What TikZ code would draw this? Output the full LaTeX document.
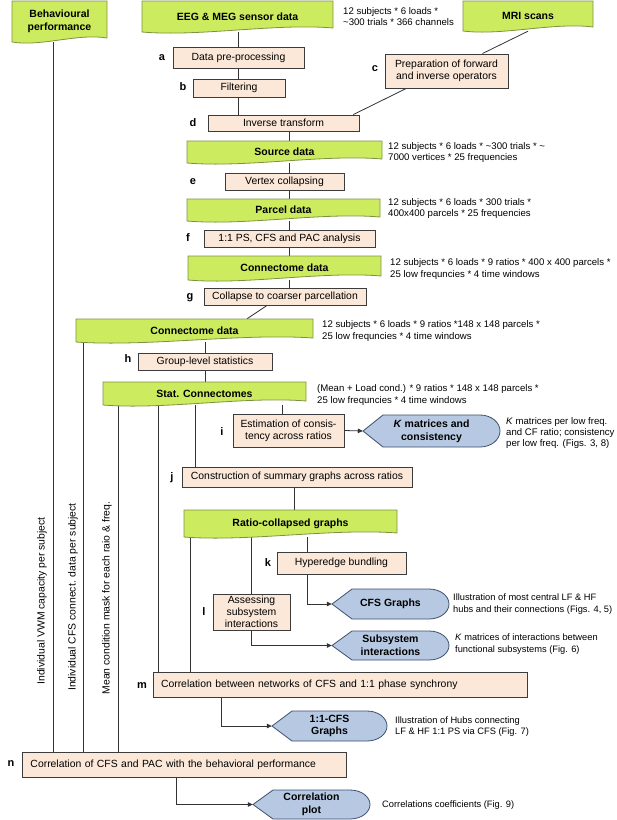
\documentclass[tikz,border=0pt]{standalone}
\usepackage{fontspec}
\setmainfont{Liberation Sans}
\usetikzlibrary{arrows.meta,backgrounds,calc}
\definecolor{gfill}{RGB}{205,235,95}
\definecolor{gline}{RGB}{125,145,70}
\definecolor{pfill}{RGB}{252,232,216}
\definecolor{pline}{RGB}{60,60,60}
\definecolor{bfill}{RGB}{183,201,226}
\definecolor{bline}{RGB}{60,80,110}
\tikzset{
 gshape/.style={fill=gfill, draw=gline, line width=0.8pt},
 gtext/.style={font=\fontsize{10.5}{12.5}\selectfont\bfseries, align=center, inner sep=0pt},
 pboxst/.style={fill=pfill, draw=pline, line width=0.9pt, font=\fontsize{10.4}{12.2}\selectfont, align=center, inner sep=0pt},
 bshape/.style={fill=bfill, draw=bline, line width=0.8pt},
 btext/.style={font=\fontsize{10.5}{12.8}\selectfont\bfseries, align=center, inner sep=0pt},
 lab/.style={font=\fontsize{11}{13}\selectfont\bfseries, inner sep=0pt},
 ann/.style={font=\fontsize{9.6}{11.2}\selectfont, align=left, anchor=west, inner sep=0pt},
 annb/.style={font=\fontsize{9.3}{11.6}\selectfont, align=left, anchor=west, inner sep=0pt},
 vlab/.style={font=\fontsize{10.4}{12}\selectfont, rotate=90, inner sep=0pt},
 conn/.style={draw=black!80, line width=0.8pt},
 arr/.style={conn, -{Triangle[length=5pt,width=4.5pt]}},
}
% green document shape: name, x left, y top, x right, y bottom-left, text
\newcommand\gdoc[6]{%
 \path[gshape] (#2,#3) -- (#4,#3) -- (#4,{#5-4}) .. controls ({#2+0.7*(#4-#2)},{#5-9}) and ({#2+0.3*(#4-#2)},{#5+5}) .. (#2,#5) -- cycle;
 \node[gtext, minimum width={#4-#2}, minimum height={#5-#3}] (#1) at ({(#2+#4)/2},{(#3+#5)/2}) {#6};
}
% peach process box
\newcommand\pbox[6]{%
 \node[pboxst, minimum width={#4-#2}, minimum height={#5-#3}] (#1) at ({(#2+#4)/2},{(#3+#5)/2}) {#6};
}
% blue display shape: name, x tip, y top, x right, y bottom, text, y radius
\newcommand\bdisp[7]{%
 \path[bshape] (#2,{(#3+#5)/2}) -- ({#2+20},#3) -- ({#4-20},#3) arc[start angle=90, end angle=-90, x radius=20pt, y radius=#7pt] -- ({#2+20},#5) -- cycle;
 \node[btext, minimum width={#4-#2}, minimum height={#5-#3}] (#1) at ({(#2+#4)/2},{(#3+#5)/2}) {#6};
}
\begin{document}
\begin{tikzpicture}[x=1pt,y=-1pt]
\useasboundingbox (0,0) rectangle (617,820);

% green data shapes
\gdoc{beh}{12}{1}{107}{42}{Behavioural\\performance}
\gdoc{eeg}{142}{1}{333}{32}{EEG \& MEG sensor data}
\gdoc{mri}{463}{1}{593}{31}{MRI scans}
\gdoc{src}{187}{141}{382}{163}{Source data}
\gdoc{parcel}{187}{199}{380}{221}{Parcel data}
\gdoc{conna}{188}{256}{381}{280}{Connectome data}
\gdoc{connb}{76}{319}{313}{342}{Connectome data}
\gdoc{stat}{103}{382}{306}{405}{Stat. Connectomes}
\gdoc{ratio}{184}{510}{397}{537}{Ratio-collapsed graphs}

% process boxes
\pbox{a}{173}{47}{304}{68}{Data pre-processing}
\pbox{b}{193}{79}{285}{97}{Filtering}
\pbox{c}{385}{54}{508}{88}{Preparation of forward\\and inverse operators}
\pbox{d}{208}{115}{359}{131}{Inverse transform}
\pbox{e}{225}{173}{344}{190}{Vertex collapsing}
\pbox{f}{204}{230}{375}{247}{1:1 PS, CFS and PAC analysis}
\pbox{g}{204}{288}{366}{305}{Collapse to coarser parcellation}
\pbox{h}{138}{353}{272}{370}{Group-level statistics}
\pbox{i}{233}{414}{344}{447}{Estimation of consis-\\tency across ratios}
\pbox{j}{182}{467}{412}{487}{Construction of summary graphs across ratios}
\pbox{k}{277}{552}{406}{574}{Hyperedge bundling}
\pbox{l}{213}{594}{290}{630}{Assessing\\subsystem\\interactions}
\node[pboxst, minimum width=374, minimum height=25, text width=358, inner xsep=8pt, align=left] (m) at (340,684.5) {Correlation between networks of CFS and 1:1 phase synchrony};
\node[pboxst, minimum width=323.5, minimum height=25, text width=307.5, inner xsep=8pt, align=left] (n) at (184.25,764.5) {Correlation of CFS and PAC with the behavioral performance};

% blue output shapes
\bdisp{kmat}{363}{415}{500}{447}{\textit{K} matrices and\\consistency}{16}
\bdisp{cfsg}{332}{589}{449}{619}{CFS Graphs}{15}
\bdisp{subs}{332}{631}{449}{660}{Subsystem\\interactions}{14.5}
\bdisp{cfsone}{272}{711}{387}{741}{1:1-CFS\\Graphs}{15}
\bdisp{corr}{253}{790}{370}{819}{Correlation\\plot}{14.5}

% step letters
\node[lab] (la) at (162,58) {a};
\node[lab] (lb) at (183,87) {b};
\node[lab] (lc) at (375,69) {c};
\node[lab] (ld) at (193,123) {d};
\node[lab] (le) at (193,182) {e};
\node[lab] (lf) at (188,238) {f};
\node[lab] (lg) at (190,298) {g};
\node[lab] (lh) at (128,359) {h};
\node[lab] (li) at (222,432) {i};
\node[lab] (lj) at (172,478) {j};
\node[lab] (lk) at (268,563) {k};
\node[lab] (ll) at (204,612) {l};
\node[lab] (lm) at (142,686) {m};
\node[lab] (ln) at (11,764) {n};

% annotations
\node[ann] (t1) at (343,16.5) {12 subjects * 6 loads *\\\textasciitilde300 trials * 366 channels};
\node[ann] (t2) at (388,152.5) {12 subjects * 6 loads * \textasciitilde300 trials * \textasciitilde\\7000 vertices * 25 frequencies};
\node[ann] (t3) at (388,208.5) {12 subjects * 6 loads * 300 trials *\\400x400 parcels * 25 frequencies};
\node[ann] (t4) at (390,269) {12 subjects * 6 loads * 9 ratios * 400 x 400 parcels *\\25 low frequncies * 4 time windows};
\node[ann] (t5) at (322,331) {12 subjects * 6 loads * 9 ratios *148 x 148 parcels *\\25 low frequncies * 4 time windows};
\node[ann] (t6) at (317,395) {(Mean + Load cond.) * 9 ratios * 148 x 148 parcels *\\25 low frequncies * 4 time windows};
\node[ann] (t7) at (506,433) {\textit{K} matrices per low freq.\\and CF ratio; consistency\\per low freq. (Figs. 3, 8)};
\node[annb] (t8) at (453,604) {Illustration of most central LF \& HF\\hubs and their connections (Figs. 4, 5)};
\node[annb] (t9) at (455,644) {\textit{K} matrices of interactions between\\functional subsystems (Fig. 6)};
\node[annb] (t10) at (395,726.5) {Illustration of Hubs connecting\\LF \& HF 1:1 PS via CFS (Fig. 7)};
\node[annb] (t11) at (382,805) {Correlations coefficients (Fig. 9)};

% vertical labels
\node[vlab] (v1) at (42,601) {Individual VWM capacity per subject};
\node[vlab] (v2) at (73,597) {Individual CFS connect. data per subject};
\node[vlab] (v3) at (107,598) {Mean condition mask for each raio \& freq.};

\begin{pgfonlayer}{background}
\draw[conn] (beh.south -| 53,0) -- (n.north -| 53,0);
\draw[conn] (eeg.south -| 238,0) -- (a.north -| 238,0);
\draw[conn] (a.south -| 238,0) -- (b.north -| 238,0);
\draw[conn] (b.south -| 238,0) -- (d.north -| 238,0);
\draw[conn] (mri.south) -- ($(c.north)!0.58!(c.north east)$);
\draw[conn] ($(c.south)!0.65!(c.south west)$) -- ($(d.north)!0.92!(d.north east)$);
\draw[conn] (d.south -| 289,0) -- (src.north -| 289,0);
\draw[conn] (src.south -| 289,0) -- (e.north -| 289,0);
\draw[conn] (e.south -| 289,0) -- (parcel.north -| 289,0);
\draw[conn] (parcel.south -| 289,0) -- (f.north -| 289,0);
\draw[conn] (f.south -| 289,0) -- (conna.north -| 289,0);
\draw[conn] (conna.south -| 289,0) -- (g.north -| 289,0);
\draw[conn] (g.south -| 267,0) -- (connb.north -| 247,0);
\draw[conn] (connb.south -| 205,0) -- (h.north -| 205,0);
\draw[conn] (connb.south -| 83,0) -- (n.north -| 83,0);
\draw[conn] (h.south -| 205,0) -- (stat.north -| 205,0);
\draw[conn] (stat.south -| 118,0) -- (n.north -| 118,0);
\draw[conn] (stat.south -| 158,0) -- (m.north -| 158,0);
\draw[conn] (stat.south -| 195,0) -- (j.north -| 195,0);
\draw[conn] (stat.south -| 282,0) -- (i.north -| 282,0);
\draw[arr] (i.east) -- (kmat.west);
\draw[conn] (j.south -| 294,0) -- (ratio.north -| 294,0);
\draw[conn] (ratio.south -| 190,0) -- (m.north -| 190,0);
\draw[conn] (ratio.south -| 251,0) -- (l.north -| 251,0);
\draw[conn] (ratio.south -| 307,0) -- (k.north -| 307,0);
\draw[arr] (k.south -| 307,0) |- (cfsg.west);
\draw[arr] (l.south -| 251,0) |- (subs.west);
\draw[arr] (m.south -| 221,0) |- (cfsone.west);
\draw[arr] (n.south -| 176,0) |- (corr.west);
\end{pgfonlayer}
\end{tikzpicture}
\end{document}
